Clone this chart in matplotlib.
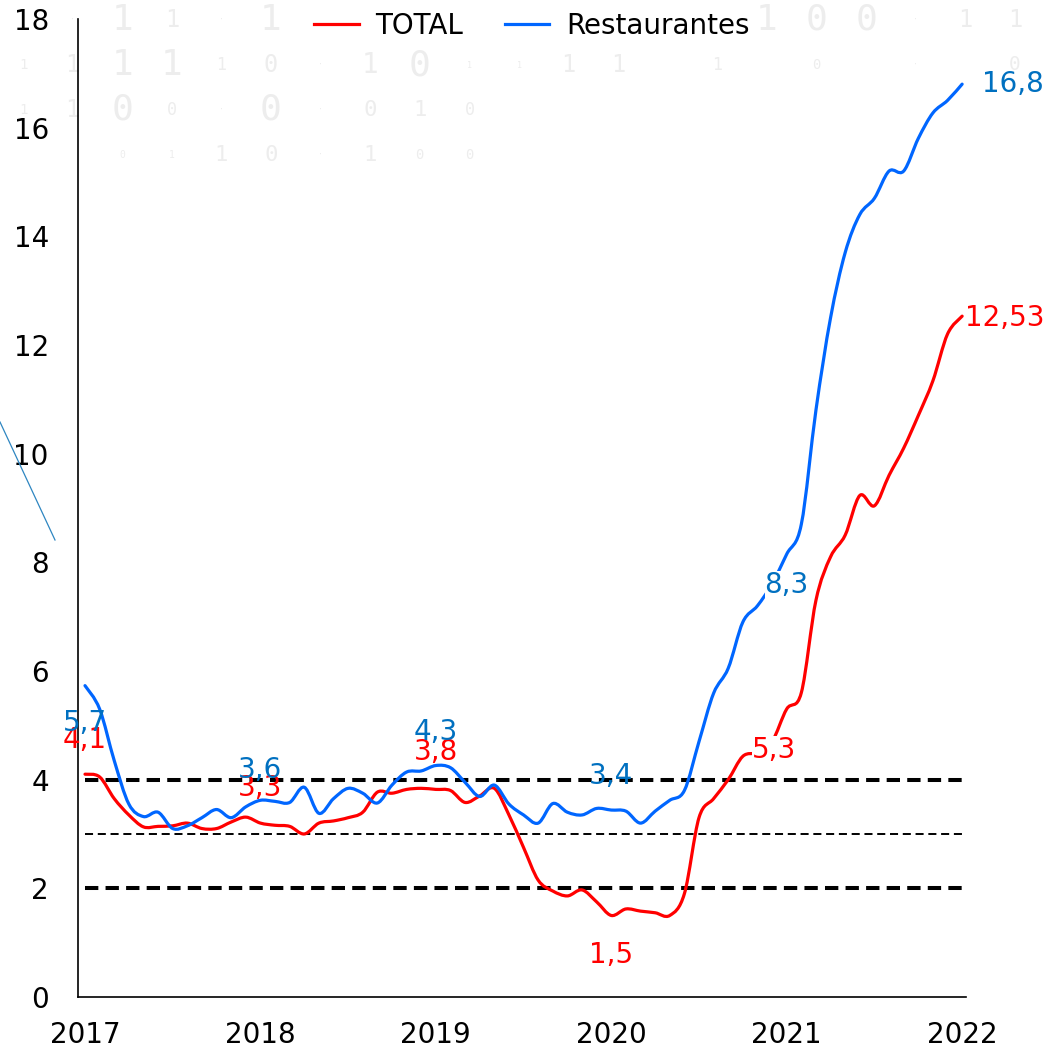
import numpy as np
import matplotlib
matplotlib.use("Agg")
import matplotlib.pyplot as plt
from matplotlib.lines import Line2D
from matplotlib.path import Path
from matplotlib.patches import PathPatch

# monthly series, Jan 2017 .. Jan 2022
years = ["2017", "2018", "2019", "2020", "2021", "2022"]
total = [4.1, 4.05, 3.65, 3.35, 3.13, 3.14, 3.15, 3.2, 3.1, 3.1, 3.22, 3.31,
         3.2, 3.16, 3.14, 3.0, 3.2, 3.24, 3.3, 3.4, 3.77, 3.75, 3.82, 3.84,
         3.82, 3.8, 3.58, 3.7, 3.84, 3.35, 2.75, 2.15, 1.95, 1.86, 1.97, 1.75,
         1.5, 1.62, 1.58, 1.55, 1.5, 1.9, 3.3, 3.65, 4.0, 4.43, 4.5, 4.7,
         5.3, 5.6, 7.3, 8.1, 8.5, 9.23, 9.04, 9.6, 10.1, 10.7, 11.34, 12.2,
         12.53]
restaurantes = [5.73, 5.3, 4.35, 3.55, 3.32, 3.4, 3.1, 3.15, 3.3, 3.45, 3.3, 3.5,
                3.62, 3.6, 3.58, 3.86, 3.38, 3.65, 3.84, 3.75, 3.57, 3.9, 4.14, 4.16,
                4.26, 4.22, 3.95, 3.69, 3.9, 3.55, 3.35, 3.2, 3.56, 3.4, 3.35, 3.47,
                3.44, 3.42, 3.2, 3.42, 3.62, 3.8, 4.7, 5.59, 6.05, 6.9, 7.2, 7.6,
                8.15, 8.7, 10.8, 12.5, 13.7, 14.4, 14.7, 15.2, 15.2, 15.8, 16.27, 16.5,
                16.8]
label_months = [0, 12, 24, 36, 48, 60]
total_labels = ["4,1", "3,3", "3,8", "1,5", "5,3", "12,53"]
rest_labels = ["5,7", "3,6", "4,3", "3,4", "8,3", "16,8"]
lim_sup, meta, lim_inf = 4, 3, 2

RED = "#FF0000"
BLUE = "#0066FF"
BLUE_LBL = "#0070C0"
FS = 20

plt.rcParams["font.family"] = "DejaVu Sans"
plt.rcParams["lines.scale_dashes"] = False


def smooth_path(x, y):
    # Excel-style smoothed line: cubic Bezier through every point
    pts = np.column_stack([x, y]).astype(float)
    verts = [pts[0]]
    codes = [Path.MOVETO]
    n = len(pts)
    for i in range(n - 1):
        p0 = pts[max(i - 1, 0)]
        p1 = pts[i]
        p2 = pts[i + 1]
        p3 = pts[min(i + 2, n - 1)]
        verts += [p1 + (p2 - p0) / 6, p2 - (p3 - p1) / 6, p2]
        codes += [Path.CURVE4] * 3
    return Path(verts, codes)


fig = plt.figure(figsize=(10.51, 10.52), dpi=100)

# faint binary watermark at the top
wm_rows = [
    (20, [(1, "·", 6), (2, "1", 26), (3, "1", 17), (4, "·", 6), (5, "1", 26),
          (15, "1", 26), (16, "0", 26), (17, "0", 26), (18, "·", 6), (19, "1", 17), (20, "1", 17)]),
    (65, [(0, "1", 10), (1, "1", 17), (2, "1", 26), (3, "1", 26), (4, "1", 12), (5, "0", 17),
          (6, "·", 6), (7, "1", 20), (8, "0", 26), (9, "1", 6), (10, "1", 6), (11, "1", 17),
          (12, "1", 17), (14, "1", 12), (16, "0", 10), (18, "·", 6), (20, "0", 14)]),
    (110, [(0, "1", 10), (1, "1", 17), (2, "0", 26), (3, "0", 12), (4, "·", 6), (5, "0", 26),
           (6, "·", 6), (7, "0", 16), (8, "1", 16), (9, "0", 12)]),
    (155, [(2, "0", 7), (3, "1", 7), (4, "1", 16), (5, "0", 16), (6, "·", 6), (7, "1", 16),
           (8, "0", 10), (9, "0", 10)]),
]
for ypx, cells in wm_rows:
    for k, ch, sz in cells:
        fig.text((23 + 49.6 * k) / 1051, 1 - ypx / 1052, ch, fontsize=sz,
                 family="DejaVu Sans Mono", color="#EDEDED",
                 ha="center", va="center", zorder=-5)

# stray thin blue stroke on the left edge
fig.add_artist(Line2D([0, 55 / 1051], [1 - 422 / 1052, 1 - 540 / 1052],
                      color="#2E86C1", lw=0.9))

ax = fig.add_axes([0.0742, 0.0523, 0.845, 0.9297])
ax.patch.set_alpha(0)

months = np.arange(len(total))
ax.plot(months, np.full(len(months), lim_sup), color="black", lw=2.9,
        dashes=(9.6, 5.2), dash_capstyle="butt", zorder=2)
ax.plot(months, np.full(len(months), lim_inf), color="black", lw=2.9,
        dashes=(9.6, 5.2), dash_capstyle="butt", zorder=2)
ax.plot(months, np.full(len(months), meta), color="black", lw=1.4,
        dashes=(5.8, 3.4), zorder=2)

for series, col in [(total, RED), (restaurantes, BLUE)]:
    ax.add_patch(PathPatch(smooth_path(months, series), fill=False, edgecolor=col,
                           lw=2.3, capstyle="round", joinstyle="round", zorder=3))

# label offsets in pixels (dx, dy) and whether a white box sits behind
rest_off = [(0, -37, False), (0, 30, False), (0, 34, False), (0, 34, False),
            (0, -31, True), (20, 0, False)]
tot_off = [(0, 34, False), (0, 35, False), (0, 37, False), (0, -40, False),
           (-13, -41, True), (3, -2, False)]

for m, txt, (dx, dy, box) in zip(label_months, rest_labels, rest_off):
    ha = "left" if m == label_months[-1] else "center"
    ax.annotate(txt, (m, restaurantes[m]), xytext=(dx, dy), textcoords="offset pixels",
                ha=ha, va="center", fontsize=FS, color=BLUE_LBL, zorder=5,
                bbox=dict(fc="white", ec="none", pad=0) if box else None,
                annotation_clip=False)
for m, txt, (dx, dy, box) in zip(label_months, total_labels, tot_off):
    ha = "left" if m == label_months[-1] else "center"
    ax.annotate(txt, (m, total[m]), xytext=(dx, dy), textcoords="offset pixels",
                ha=ha, va="center", fontsize=FS, color=RED, zorder=4,
                bbox=dict(fc="white", ec="none", pad=0) if box else None,
                annotation_clip=False)

ax.set_xlim(-0.48, 60.27)
ax.set_ylim(0, 18)
ax.set_xticks(label_months)
ax.set_xticklabels(years)
ax.set_yticks(np.arange(0, 19, 2))
ax.tick_params(axis="both", length=0, labelsize=FS)
ax.tick_params(axis="y", pad=21)
ax.tick_params(axis="x", pad=17)
for s in ["top", "right"]:
    ax.spines[s].set_visible(False)
for s in ["left", "bottom"]:
    ax.spines[s].set_linewidth(1.2)

handles = [Line2D([], [], color=RED, lw=2.3), Line2D([], [], color=BLUE, lw=2.3)]
ax.legend(handles, ["TOTAL", "Restaurantes"], loc="center",
          bbox_to_anchor=(0.511, 0.993), ncol=2, frameon=False,
          fontsize=FS, handlelength=1.6, handletextpad=0.6, columnspacing=1.5,
          borderaxespad=0)

fig.savefig("out.png", dpi=100)
